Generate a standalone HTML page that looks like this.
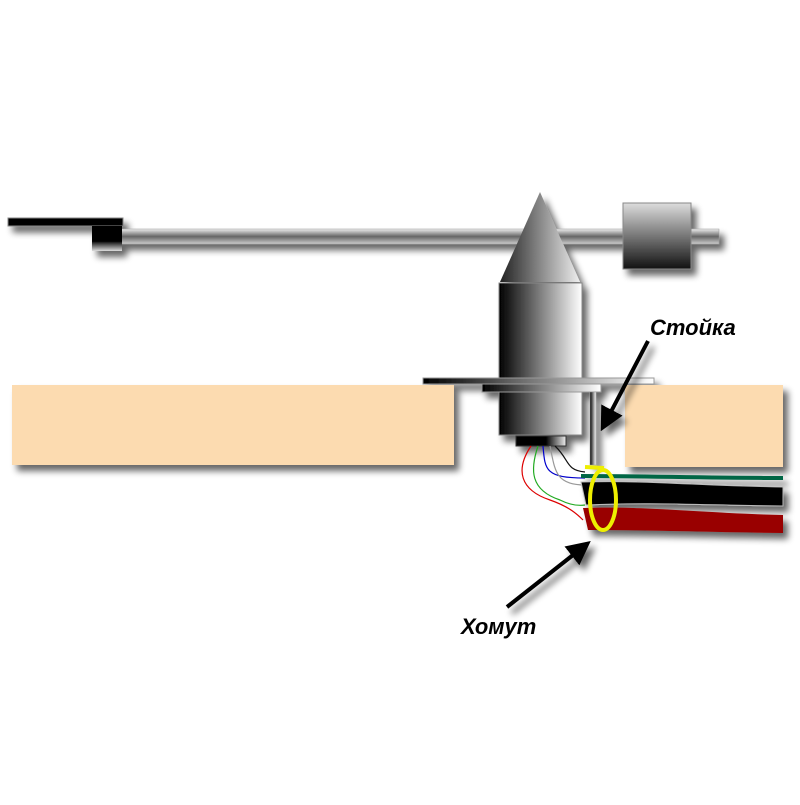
<!DOCTYPE html>
<html><head><meta charset="utf-8"><style>html,body{margin:0;padding:0;background:#fff}</style></head>
<body>
<svg width="800" height="800" viewBox="0 0 800 800" xmlns="http://www.w3.org/2000/svg">
<defs>
<filter id="sh" x="-20%" y="-20%" width="150%" height="160%">
<feGaussianBlur in="SourceAlpha" stdDeviation="3.5"/><feOffset dx="5" dy="6"/>
<feComponentTransfer><feFuncA type="linear" slope="0.6"/></feComponentTransfer>
<feMerge><feMergeNode/><feMergeNode in="SourceGraphic"/></feMerge></filter>
<linearGradient id="h" x1="0" x2="1" y1="0" y2="0"><stop offset="0" stop-color="#000"/><stop offset="1" stop-color="#fff"/></linearGradient>
<linearGradient id="hk" x1="0" x2="1" y1="0" y2="0"><stop offset="0" stop-color="#000"/><stop offset="0.6" stop-color="#000"/><stop offset="1" stop-color="#eee"/></linearGradient>
<linearGradient id="hc" x1="0" x2="1"><stop offset="0" stop-color="#222"/><stop offset="1" stop-color="#eee"/></linearGradient>
<linearGradient id="v" x1="0" x2="0" y1="0" y2="1"><stop offset="0" stop-color="#ddd"/><stop offset="1" stop-color="#111"/></linearGradient>
<linearGradient id="tube" x1="0" x2="0" y1="0" y2="1"><stop offset="0" stop-color="#eee"/><stop offset="0.5" stop-color="#666"/><stop offset="1" stop-color="#ccc"/></linearGradient>
<linearGradient id="blk" x1="0" x2="0" y1="0" y2="1"><stop offset="0" stop-color="#000"/><stop offset="0.6" stop-color="#000"/><stop offset="1" stop-color="#ddd"/></linearGradient>
<marker id="ar" viewBox="0 0 10 10" refX="8" refY="5" markerWidth="6" markerHeight="6" orient="auto"><path d="M0,0 L10,5 L0,10 z" fill="#000"/></marker>
</defs>
<g filter="url(#sh)">
<rect x="120" y="229" width="599" height="15" fill="url(#tube)" stroke="#999" stroke-width="0.5"/>
<rect x="8" y="218" width="115" height="8" fill="#000" stroke="#888" stroke-width="1"/>
<rect x="92" y="226" width="30" height="25" fill="url(#blk)"/>
<rect x="623" y="203" width="68" height="66" fill="url(#v)" stroke="#888"/>
<rect x="12" y="385" width="442" height="80" fill="#fcdbb0"/>
<rect x="625" y="385" width="158" height="82" fill="#fcdbb0"/>
<rect x="499" y="283" width="83" height="152" fill="url(#h)" stroke="#888"/>
<polygon points="540,192 500,282 580,282" fill="url(#hc)"/>
<rect x="423" y="378" width="231" height="6" fill="url(#h)" stroke="#999"/>
<rect x="482" y="384" width="119" height="8" fill="url(#h)" stroke="#999"/>
<rect x="590" y="392" width="6" height="73" fill="url(#h)" stroke="#999" stroke-width="0.5"/>
<rect x="516" y="436" width="50" height="10" fill="url(#hk)" stroke="#333"/>
</g>
<g fill="none" stroke-width="1.2">
<path d="M531,446 C515,470 520,490 550,500 C570,507 578,515 583,520" stroke="#d00"/>
<path d="M538,446 C530,470 530,490 560,500 C570,505 578,506 585,505" stroke="#2a2"/>
<path d="M543,446 C545,470 545,478 585,478" stroke="#00c"/>
<path d="M550,446 C555,470 555,485 585,485" stroke="#999"/>
<path d="M555,446 C570,460 565,470 585,472" stroke="#111"/>
</g>
<g filter="url(#sh)">
<path d="M581,476 C650,476 700,478 783,478" stroke="#064" stroke-width="4" fill="none"/>
<path d="M581,482 C650,480 700,486 783,487 L783,506 C700,505 650,502 586,505 Z" fill="#000" stroke="#bbb" stroke-width="1"/>
<path d="M583,508 C650,506 700,513 783,515 L783,533 C700,532 650,530 588,530 Z" fill="#900"/>
</g>
<ellipse cx="603" cy="500" rx="13" ry="30" fill="none" stroke="#ee0" stroke-width="4"/>
<line x1="585" y1="467" x2="604" y2="468" stroke="#ee0" stroke-width="4"/>
<g filter="url(#sh)">
<line x1="648" y1="341" x2="603" y2="427" stroke="#000" stroke-width="4" marker-end="url(#ar)"/>
<line x1="507" y1="607" x2="587" y2="544" stroke="#000" stroke-width="4" marker-end="url(#ar)"/>
</g>
<g font-family="Liberation Sans, sans-serif" font-weight="bold" font-style="italic" font-size="22" fill="#000">
<text x="650" y="335">Стойка</text>
<text x="461" y="634">Хомут</text>
</g>
</svg>
</body></html>
